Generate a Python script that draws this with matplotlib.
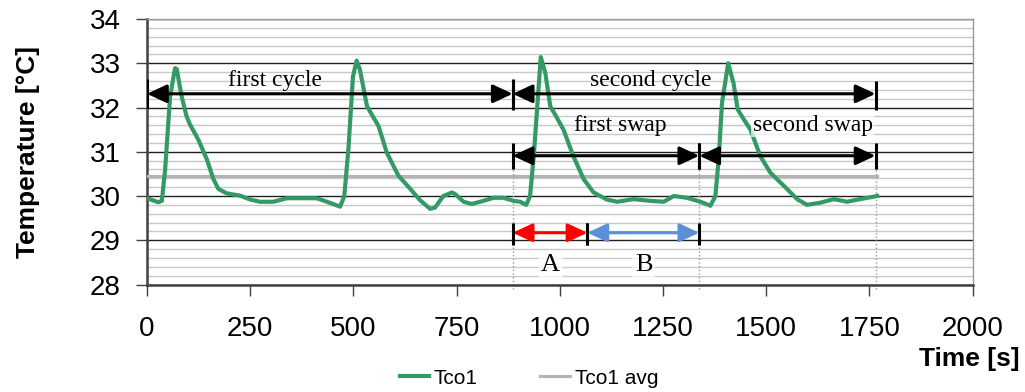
import matplotlib.pyplot as plt
from matplotlib.ticker import MultipleLocator

plt.rcParams['font.family'] = ['Liberation Sans', 'DejaVu Sans']

# Tco1 readings (time in s, temperature in degC)
time_s = [0, 27, 36, 44, 56, 68, 72, 84, 96, 104, 124, 145, 161, 173, 193, 225,
          250, 274, 306, 339, 371, 411, 436, 468, 478, 488, 499, 508, 516, 533,
          549, 561, 581, 609, 638, 662, 686, 698, 718, 739, 747, 767, 787, 815,
          840, 864, 888, 904, 919, 928, 937, 945, 954, 965, 977, 993, 1009, 1033,
          1058, 1082, 1114, 1139, 1179, 1219, 1252, 1276, 1308, 1341, 1365, 1377,
          1385, 1393, 1408, 1421, 1431, 1446, 1462, 1486, 1510, 1543, 1575, 1599,
          1632, 1664, 1696, 1728, 1769]
tco1 = [29.95, 29.86, 29.89, 30.6, 32.25, 32.89, 32.87, 32.25, 31.8, 31.62, 31.28,
        30.83, 30.38, 30.16, 30.06, 30.01, 29.92, 29.87, 29.87, 29.95, 29.95, 29.95,
        29.87, 29.76, 30.0, 31.06, 32.7, 33.06, 32.85, 32.03, 31.77, 31.58, 30.98,
        30.46, 30.16, 29.9, 29.71, 29.74, 30.0, 30.08, 30.04, 29.87, 29.82, 29.89,
        29.96, 29.96, 29.89, 29.87, 29.8, 30.0, 30.9, 31.96, 33.14, 32.78, 32.03,
        31.77, 31.5, 30.9, 30.38, 30.08, 29.92, 29.87, 29.93, 29.89, 29.87, 30.0,
        29.96, 29.87, 29.78, 30.0, 30.83, 32.1, 33.0, 32.55, 31.96, 31.73, 31.5,
        30.9, 30.53, 30.23, 29.93, 29.8, 29.85, 29.93, 29.87, 29.93, 30.0]
tco1_avg = 30.46

# phase boundaries (s)
cycle_start = 0
cycle_split = 886
swap_split = 1338
cycle_end = 1765
ab_split = 1067

fig = plt.figure(figsize=(10.25, 3.92), dpi=100)
ax = fig.add_axes([0.1434, 0.2742, 0.8054, 0.6773])

green = '#349a65'
ax.plot(time_s, tco1, color=green, lw=3, label='Tco1', zorder=4)
ax.plot([time_s[0], time_s[-1]], [tco1_avg, tco1_avg], color='#b4b4b4', lw=2.3,
        label='Tco1 avg', zorder=3)

ax.set_xlim(0, 2000)
ax.set_ylim(28, 34)
ax.xaxis.set_major_locator(MultipleLocator(250))
ax.yaxis.set_major_locator(MultipleLocator(1))
ax.yaxis.set_minor_locator(MultipleLocator(0.2))
ax.grid(axis='y', which='major', color='#202020', lw=1)
ax.grid(axis='y', which='minor', color='#c8c8c8', lw=1)
ax.set_axisbelow(True)
ax.tick_params(axis='both', which='major', labelsize=20, direction='out',
               length=8, width=1, color='#404040')
ax.tick_params(axis='y', which='minor', length=0)
ax.tick_params(axis='x', pad=15)
ax.tick_params(axis='y', pad=11)
for side in ['left', 'bottom']:
    ax.spines[side].set_color('#404040')
    ax.spines[side].set_linewidth(1.8)
for side in ['top', 'right']:
    ax.spines[side].set_color('#999999')
    ax.spines[side].set_linewidth(1)


def dim_arrow(x0, x1, y, color, bar_lo, bar_hi):
    ax.annotate('', xy=(x1, y), xytext=(x0, y),
                arrowprops=dict(arrowstyle='<|-|>,head_length=0.6,head_width=0.28',
                                color=color, lw=2.2, shrinkA=0, shrinkB=0,
                                mutation_scale=20), zorder=6)
    for x in (x0, x1):
        ax.plot([x, x], [bar_lo, bar_hi], color='black', lw=2.2, zorder=6,
                solid_capstyle='butt')


# dotted guides
for x in (cycle_split, swap_split, cycle_end):
    ax.plot([x, x], [27.9, 30.6], color='#9a9a9a', lw=1, ls=':', zorder=2,
            clip_on=False)

dim_arrow(cycle_start, cycle_split, 32.31, 'black', 32.0, 32.65)
dim_arrow(cycle_split, cycle_end, 32.31, 'black', 31.95, 32.6)
dim_arrow(cycle_split, swap_split, 30.91, 'black', 30.6, 31.2)
dim_arrow(swap_split, cycle_end, 30.91, 'black', 30.6, 31.2)
dim_arrow(cycle_split, ab_split, 29.17, '#ff0000', 28.9, 29.4)
dim_arrow(ab_split, swap_split, 29.17, '#5b8fd6', 28.9, 29.4)

serif = dict(family='Liberation Serif', fontsize=17, ha='center', va='center',
             zorder=7)
ax.text(310, 32.6, 'first cycle', **serif)
ax.text(1221, 32.6, 'second cycle', **serif)
ax.text(1147, 31.6, 'first swap', **serif)
ax.text(1613, 31.6, 'second swap',
        bbox=dict(facecolor='white', edgecolor='none', alpha=0.7, pad=1), **serif)
serif['fontsize'] = 19
ax.text(977, 28.45, 'A',
        bbox=dict(facecolor='white', edgecolor='none', alpha=0.7, pad=2), **serif)
ax.text(1203, 28.45, 'B',
        bbox=dict(facecolor='white', edgecolor='none', alpha=0.7, pad=2), **serif)

fig.text(0.027, 0.612, 'Temperature [°C]', rotation=90, fontsize=19,
         fontweight='bold', ha='center', va='center')
fig.text(0.995, 0.085, 'Time [s]', fontsize=19, fontweight='bold',
         ha='right', va='center')

fig.legend(loc='center', bbox_to_anchor=(0.516, 0.035), ncol=2, frameon=False,
           fontsize=15, handlelength=1.4, handletextpad=0.25, columnspacing=3.0)

fig.savefig('out.png', dpi=100)
